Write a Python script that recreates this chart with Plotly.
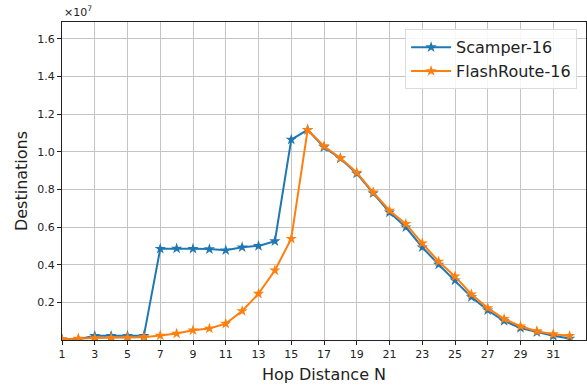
import plotly.graph_objects as go

hops = list(range(1, 33))
# values in units of 1e7
scamper = [0.003, 0.004, 0.022, 0.022, 0.022, 0.022, 0.485, 0.486, 0.485, 0.483,
           0.477, 0.493, 0.500, 0.525, 1.065, 1.117, 1.025, 0.965, 0.885, 0.780,
           0.678, 0.599, 0.493, 0.401, 0.317, 0.228, 0.158, 0.101, 0.064, 0.041,
           0.022, 0.008]
flashroute = [0.004, 0.008, 0.010, 0.012, 0.013, 0.015, 0.024, 0.034, 0.052, 0.061,
              0.087, 0.154, 0.246, 0.370, 0.538, 1.117, 1.030, 0.967, 0.890, 0.785,
              0.688, 0.617, 0.514, 0.417, 0.338, 0.243, 0.170, 0.112, 0.073, 0.047,
              0.031, 0.022]
series_names = ["Scamper-16", "FlashRoute-16"]
colors = ["#1f77b4", "#ff7f0e"]
x_ticks = list(range(1, 32, 2))
y_ticks = [0.2, 0.4, 0.6, 0.8, 1.0, 1.2, 1.4, 1.6]
SCALE = 1e7

fig = go.Figure()
for name, vals, c in zip(series_names, [scamper, flashroute], colors):
    fig.add_trace(go.Scatter(
        x=hops, y=[v * SCALE for v in vals], name=name, mode="lines+markers",
        line=dict(color=c, width=2),
        marker=dict(symbol="star", size=8.5, color=c),
    ))

font = "DejaVu Sans"
fig.update_layout(
    width=587, height=386,
    margin=dict(l=62, r=1, t=22, b=46, autoexpand=False),
    paper_bgcolor="white", plot_bgcolor="white",
    font=dict(family=font, color="#222", size=11),
    showlegend=True,
    legend=dict(x=0.983, y=0.977, xanchor="right", yanchor="top",
                bgcolor="rgba(255,255,255,0.85)", bordercolor="#dcdcdc", borderwidth=1,
                font=dict(family=font, size=16, color="#222"),
                tracegroupgap=0, itemwidth=40),
    xaxis=dict(range=[1, 33], tickvals=x_ticks, ticktext=[str(t) for t in x_ticks],
               showgrid=True, gridcolor="#c4c4c4", gridwidth=1,
               ticks="outside", ticklen=4, tickcolor="#222",
               showline=True, linecolor="#222", linewidth=1, mirror=True,
               zeroline=False, automargin=False,
               title=dict(text="Hop Distance N", font=dict(family=font, size=16, color="#222"), standoff=8)),
    yaxis=dict(range=[0, 1.69 * SCALE], tickvals=[t * SCALE for t in y_ticks],
               ticktext=["%.1f" % t for t in y_ticks],
               showgrid=True, gridcolor="#c4c4c4", gridwidth=1,
               ticks="outside", ticklen=4, tickcolor="#222",
               showline=True, linecolor="#222", linewidth=1, mirror=True,
               zeroline=False, automargin=False,
               title=dict(text="Destinations", font=dict(family=font, size=16, color="#222"), standoff=5)),
    annotations=[dict(text="×10<sup>7</sup>", xref="paper", yref="paper", x=0, y=1,
                      xanchor="left", yanchor="bottom", showarrow=False,
                      font=dict(family=font, size=11, color="#222"), yshift=1)],
)

fig.write_html("out.html", config={"displayModeBar": False},
               post_script="document.body.style.margin='0';document.body.style.padding='0';document.body.style.overflow='hidden';")
